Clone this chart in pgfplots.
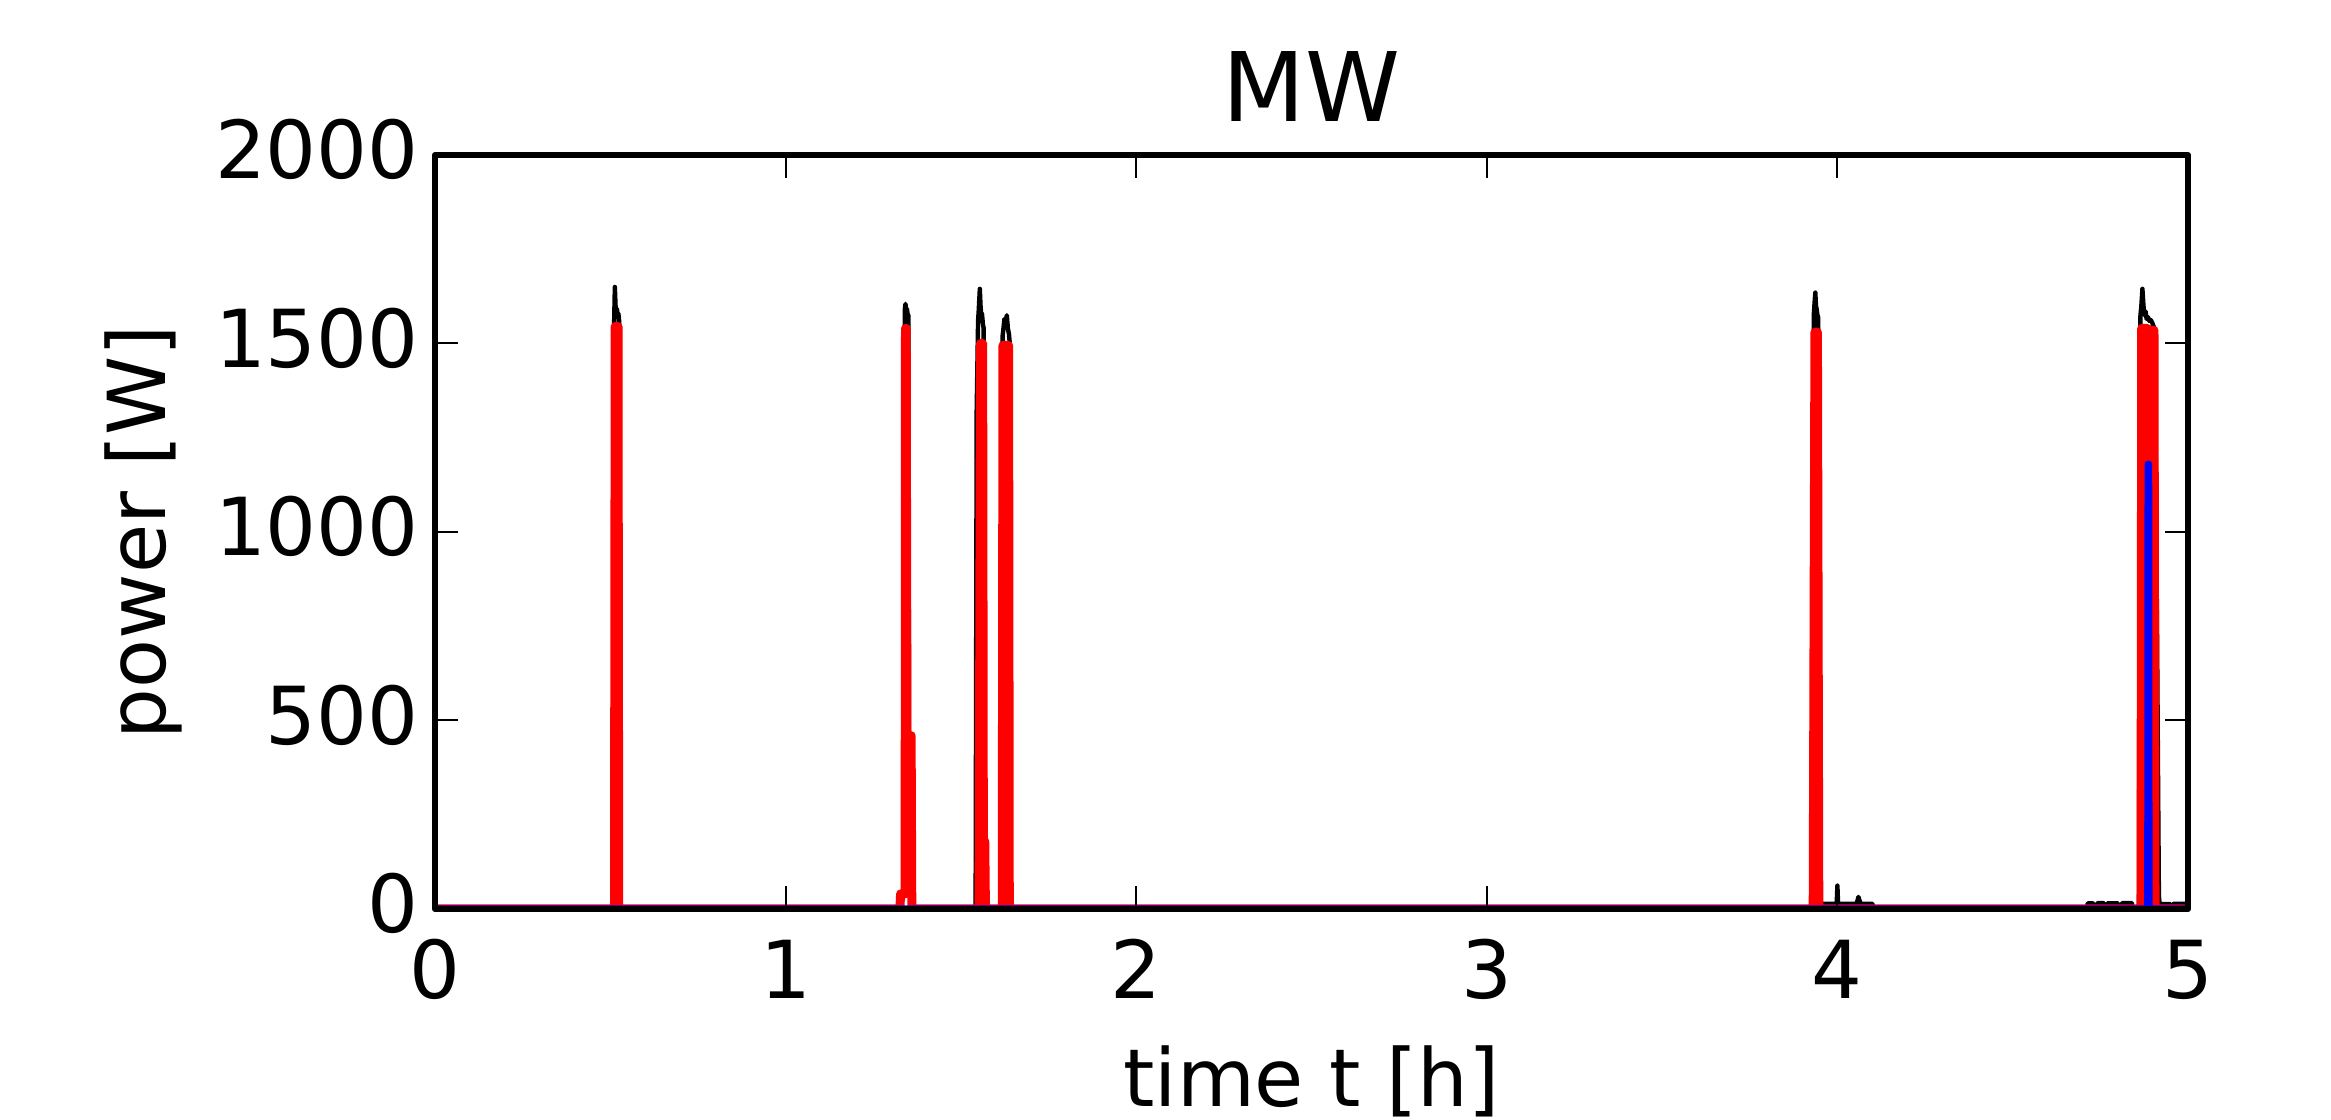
\documentclass[border=0pt]{standalone}
\usepackage{fontspec}
\setmainfont{DejaVu Sans}
\usepackage{pgfplots}
\pgfplotsset{compat=1.18}

\begin{document}
\begin{tikzpicture}
\useasboundingbox (0,0) rectangle (582.75bp,280bp);
\begin{axis}[
    at={(108.75bp,52.75bp)}, anchor=south west,
    width=438.25bp, height=188.5bp, scale only axis,
    xmin=0, xmax=5, ymin=0, ymax=2000,
    xtick={0,1,2,3,4,5},
    ytick={0,500,1000,1500,2000},
    tick align=inside,
    major tick length=5.75bp,
    every tick/.style={black, line width=0.5bp},
    axis line style={line width=1.5bp},
    axis on top,
    /pgf/number format/assume math mode=true,
    /pgf/number format/1000 sep={},
    tick label style={font=\fontsize{20bp}{24bp}\selectfont, inner sep=0pt},
    xticklabel style={anchor=base, yshift=-22.5bp},
    yticklabel style={anchor=east, xshift=-3.9bp, yshift=1.35bp},
    title={MW},
    title style={at={([yshift=2.4bp]axis description cs:0.5,1)}, anchor=base,
        inner sep=0pt, font=\fontsize{24bp}{29bp}\selectfont},
    xlabel={time t [h]},
    xlabel style={at={([yshift=-49.25bp]axis description cs:0.5,0)}, anchor=base,
        inner sep=0pt, font=\fontsize{20bp}{24bp}\selectfont},
    ylabel={power [W]},
    ylabel style={at={([xshift=-67.25bp]axis description cs:0,0.5)}, anchor=base,
        inner sep=0pt, font=\fontsize{20bp}{24bp}\selectfont},
    line join=round,
]

% measured total
\addplot[black, line width=1.1bp] coordinates {
(0,2)(0.509,2)(0.511,1560)(0.513,1650)(0.515,1600)(0.517,1585)(0.519,1592)(0.521,1575)(0.523,1580)(0.525,1562)(0.526,2)
(1.326,2)(1.328,40)(1.339,40)(1.340,1590)(1.342,1605)(1.344,1585)(1.346,1592)(1.348,1578)(1.350,1575)(1.352,460)(1.357,460)(1.359,2)
(1.542,2)(1.545,1320)(1.549,1560)(1.551,1590)(1.554,1645)(1.556,1600)(1.558,1575)(1.560,1580)(1.563,1550)(1.565,1540)(1.566,180)(1.570,180)(1.572,2)
(1.616,2)(1.619,1520)(1.622,1545)(1.624,1565)(1.626,1548)(1.628,1555)(1.631,1575)(1.634,1540)(1.637,1525)(1.639,1505)(1.640,2)
(3.930,2)(3.933,1580)(3.935,1610)(3.937,1635)(3.939,1600)(3.941,1590)(3.943,1575)(3.945,1570)(3.948,14)
(3.998,14)(4.000,62)(4.002,14)(4.055,14)(4.060,32)(4.066,14)(4.100,14)(4.102,2)
(4.712,2)(4.714,15)(4.730,15)(4.732,2)(4.740,2)(4.742,16)(4.760,16)(4.762,2)
(4.768,2)(4.770,15)(4.800,15)(4.802,2)(4.810,2)(4.812,16)(4.840,16)(4.842,2)
(4.860,2)(4.864,1570)(4.867,1600)(4.870,1645)(4.873,1600)(4.876,1575)(4.879,1585)(4.882,1565)(4.886,1570)(4.890,1560)(4.894,1562)(4.898,1555)(4.902,1545)(4.906,1480)
(4.917,35)(4.919,13)(4.950,13)(4.952,2)(4.956,2)(4.958,14)(5.000,14)
};

% estimated appliance
\addplot[red, line width=2.25bp] coordinates {
(0,0)(0.512,0)(0.514,1545)(0.522,1545)(0.524,0)
(1.326,0)(1.328,40)(1.341,40)(1.342,1540)(1.344,1540)(1.346,460)(1.358,460)(1.360,0)
(1.552,0)(1.556,1500)(1.562,1500)(1.564,180)(1.568,180)(1.570,0)
(1.618,0)(1.620,1495)(1.636,1495)(1.638,0)
(3.931,0)(3.936,1530)(3.943,1530)(3.947,0)
(4.866,0)(4.868,1540)(4.884,1540)(4.886,0)(4.888,0)(4.890,1535)(4.903,1535)(4.906,0)(5,0)
};

% second appliance
\addplot[blue, line width=1.75bp] coordinates {
(0,0)(4.885,0)(4.886,1180)(4.888,1180)(4.889,0)(5,0)
};

\end{axis}
\end{tikzpicture}
\end{document}
